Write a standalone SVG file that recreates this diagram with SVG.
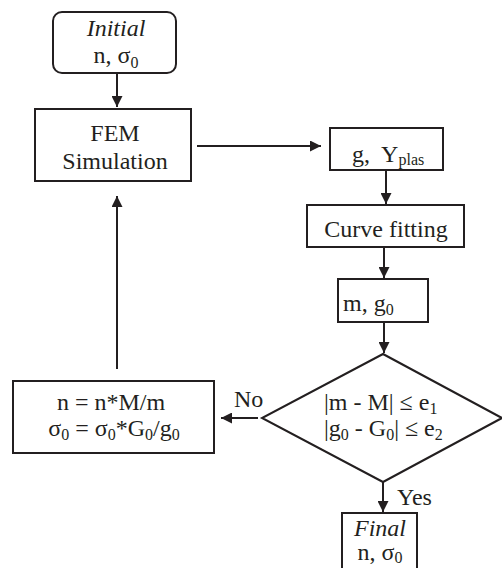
<svg xmlns="http://www.w3.org/2000/svg" width="502" height="568" viewBox="0 0 502 568">
<style>
.box{fill:#fff;stroke:#231f20;stroke-width:2}
.ln{fill:none;stroke:#231f20;stroke-width:2}
text{font-family:"Liberation Serif","Times New Roman",Times,serif;font-size:24px;fill:#231f20}
.c{text-anchor:middle}
.sub{font-size:16px}
.it{font-style:italic}
</style>
<defs>
<marker id="ah" viewBox="0 0 10 10" refX="10" refY="5" markerWidth="5.5" markerHeight="5.5" orient="auto" markerUnits="strokeWidth">
<path d="M0,0 L10,5 L0,10 z" fill="#231f20"/>
</marker>
</defs>
<rect width="502" height="568" fill="#fff"/>
<g id="connectors">
<line class="ln" x1="117" y1="73" x2="117" y2="107" marker-end="url(#ah)"/>
<line class="ln" x1="197" y1="146" x2="321" y2="146" marker-end="url(#ah)"/>
<line class="ln" x1="386" y1="170" x2="386" y2="204" marker-end="url(#ah)"/>
<line class="ln" x1="384" y1="247" x2="384" y2="278" marker-end="url(#ah)"/>
<line class="ln" x1="384" y1="322" x2="384" y2="353" marker-end="url(#ah)"/>
<line class="ln" x1="258" y1="418" x2="221" y2="418" marker-end="url(#ah)"/>
<line class="ln" x1="383" y1="482" x2="383" y2="512" marker-end="url(#ah)"/>
<line class="ln" x1="117" y1="369" x2="117" y2="196" marker-end="url(#ah)"/>
<text x="234" y="407">No</text>
<text x="397" y="505">Yes</text>
</g>
<g id="initial">
<rect class="box" x="53" y="12" width="123" height="61" rx="9"/>
<text class="c it" x="116" y="36">Initial</text>
<text class="c" x="116" y="63">n, σ<tspan class="sub" dy="5">0</tspan></text>
</g>
<g id="fem">
<rect class="box" x="35" y="109" width="156" height="72"/>
<text class="c" x="115" y="141">FEM</text>
<text class="c" x="115" y="169">Simulation</text>
</g>
<g id="gy">
<rect class="box" x="330" y="128" width="113" height="42"/>
<text x="352" y="162">g,&#160; Y<tspan class="sub" dy="3">plas</tspan></text>
</g>
<g id="curve">
<rect class="box" x="307" y="205" width="157" height="42"/>
<text class="c" x="386" y="237">Curve fitting</text>
</g>
<g id="mg">
<rect class="box" x="338" y="279" width="90" height="43"/>
<text x="343" y="311">m, g<tspan class="sub" dy="4">0</tspan></text>
</g>
<g id="decision">
<polygon class="box" points="383,354 502,418 383,482 262,418"/>
<text x="324" y="410">|m - M| ≤ e<tspan class="sub" dy="4">1</tspan></text>
<text x="324" y="436">|g<tspan class="sub" dy="4">0</tspan><tspan dy="-4"> - G</tspan><tspan class="sub" dy="4">0</tspan><tspan dy="-4">| ≤ e</tspan><tspan class="sub" dy="4">2</tspan></text>
</g>
<g id="update">
<rect class="box" x="13" y="381" width="201" height="72"/>
<text class="c" x="111" y="410">n = n*M/m</text>
<text class="c" x="114" y="436">σ<tspan class="sub" dy="4">0</tspan><tspan dy="-4"> = σ</tspan><tspan class="sub" dy="4">0</tspan><tspan dy="-4">*G</tspan><tspan class="sub" dy="4">0</tspan><tspan dy="-4">/g</tspan><tspan class="sub" dy="4">0</tspan></text>
</g>
<g id="final">
<rect class="box" x="342" y="513" width="75" height="60"/>
<text class="c it" x="380" y="536">Final</text>
<text class="c" x="380" y="560">n, σ<tspan class="sub" dy="3">0</tspan></text>
</g>
</svg>
